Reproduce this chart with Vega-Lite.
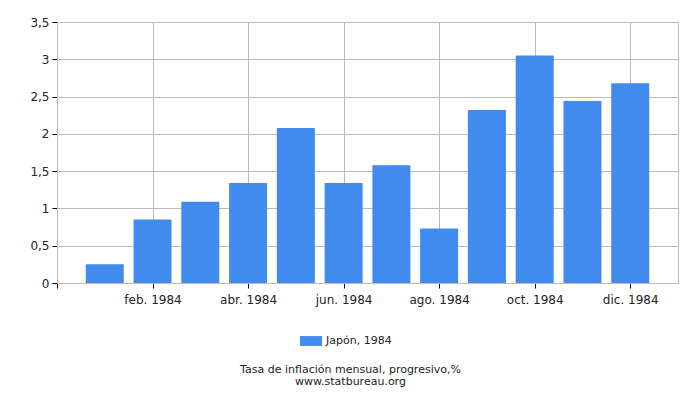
{
  "$schema": "https://vega.github.io/schema/vega-lite/v6.json",
  "width": 621,
  "height": 261,
  "autosize": {"type": "none"},
  "padding": {"left": 57, "top": 22, "right": 22, "bottom": 117},
  "background": "white",
  "config": {
    "font": "DejaVu Sans",
    "view": {"stroke": "#bbbbbb", "strokeWidth": 1},
    "axis": {
      "labelFont": "DejaVu Sans",
      "labelFontSize": 12,
      "labelColor": "#222222",
      "gridColor": "#bbbbbb",
      "gridOpacity": 1,
      "domainColor": "#bbbbbb",
      "tickColor": "#000000",
      "tickSize": 5,
      "title": null
    }
  },
  "title": {
    "text": ["Tasa de inflación mensual, progresivo,%", "www.statbureau.org"],
    "orient": "bottom",
    "anchor": "middle",
    "dx": -17,
    "fontSize": 11,
    "fontWeight": "normal",
    "font": "DejaVu Sans",
    "color": "#222222",
    "lineHeight": 12,
    "offset": 18
  },
  "data": {
    "values": [
      {"month": 1, "value": 0.25, "series": "Japón, 1984"},
      {"month": 2, "value": 0.85, "series": "Japón, 1984"},
      {"month": 3, "value": 1.09, "series": "Japón, 1984"},
      {"month": 4, "value": 1.34, "series": "Japón, 1984"},
      {"month": 5, "value": 2.08, "series": "Japón, 1984"},
      {"month": 6, "value": 1.34, "series": "Japón, 1984"},
      {"month": 7, "value": 1.58, "series": "Japón, 1984"},
      {"month": 8, "value": 0.73, "series": "Japón, 1984"},
      {"month": 9, "value": 2.32, "series": "Japón, 1984"},
      {"month": 10, "value": 3.05, "series": "Japón, 1984"},
      {"month": 11, "value": 2.44, "series": "Japón, 1984"},
      {"month": 12, "value": 2.68, "series": "Japón, 1984"}
    ]
  },
  "mark": {"type": "bar", "width": 38},
  "encoding": {
    "x": {
      "field": "month",
      "type": "quantitative",
      "scale": {"domain": [0, 13], "nice": false, "zero": false, "padding": 0},
      "axis": {
        "values": [0, 2, 4, 6, 8, 10, 12],
        "labelExpr": "datum.value == 0 ? '' : ['', 'ene.', 'feb.', 'mar.', 'abr.', 'may.', 'jun.', 'jul.', 'ago.', 'sep.', 'oct.', 'nov.', 'dic.'][datum.value] + ' 1984'",
        "labelPadding": 6,
        "grid": true
      }
    },
    "y": {
      "field": "value",
      "type": "quantitative",
      "scale": {"domain": [0, 3.5], "nice": false},
      "axis": {
        "values": [0, 0.5, 1, 1.5, 2, 2.5, 3, 3.5],
        "labelExpr": "replace(toString(datum.value), '.', ',')",
        "labelPadding": 3,
        "grid": true
      }
    },
    "fill": {
      "field": "series",
      "type": "nominal",
      "scale": {"range": ["#428bee"]},
      "legend": {
        "title": null,
        "orient": "none",
        "legendX": 243,
        "legendY": 308,
        "symbolType": "M-1,-0.45L1,-0.45L1,0.45L-1,0.45Z",
        "symbolSize": 484,
        "symbolStrokeWidth": 0,
        "labelFontSize": 11,
        "labelFont": "DejaVu Sans",
        "labelColor": "#222222",
        "labelOffset": 4
      }
    }
  }
}
